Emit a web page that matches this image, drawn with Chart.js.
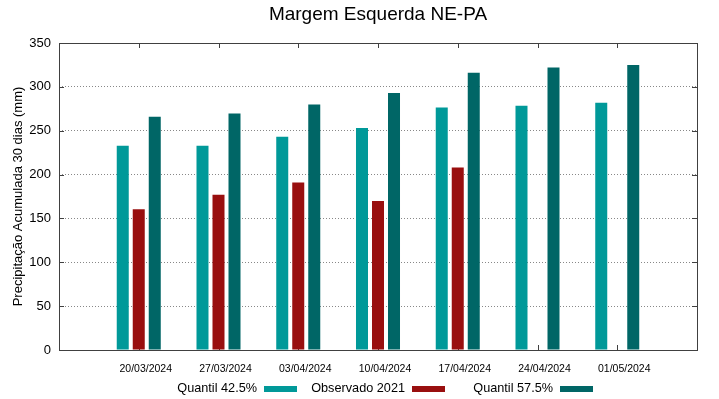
<!DOCTYPE html>
<html>
<head>
<meta charset="utf-8">
<script src="https://cdn.jsdelivr.net/npm/chart.js@4.4.1/dist/chart.umd.min.js"></script>
<style>
  html, body { margin: 0; padding: 0; background: #fff; }
</style>
</head>
<body>
<canvas id="chart" width="719" height="399"></canvas>
<script>
// Data
const dates = ['20/03/2024', '27/03/2024', '03/04/2024', '10/04/2024', '17/04/2024', '24/04/2024', '01/05/2024'];
const quantil425 = [233, 233, 243, 253, 276.5, 278.5, 282];
const observado2021 = [160.5, 177, 191, 170, 208, null, null];
const quantil575 = [266, 269.5, 280, 293, 316, 322, 325];

// Y axis range
const Y_MIN = 0;
const Y_MAX = 350;
const Y_STEP = 50;

// Style
const FONT = '"Liberation Sans", Arial, sans-serif';
const TICK_LEN = 5;
const LEGEND_X = 257;   // right edge of first key text
const LEGEND_Y = 388;
const LEGEND_COL = 148;

// gnuplot leaves an empty slot at each end of the x range
const labels = ['', ...dates, ''];
const pad = arr => [null, ...arr, null];

// Inward tick marks (drawn under the bars)
const tickMarks = {
  id: 'tickMarks',
  beforeDatasetsDraw(chart) {
    const { ctx, chartArea: a, scales: { x, y } } = chart;
    ctx.save();
    ctx.strokeStyle = '#404040';
    ctx.lineWidth = 1;
    ctx.beginPath();
    x.ticks.forEach((t, i) => {
      if (!chart.data.labels[i]) return;
      const px = Math.round(x.getPixelForTick(i)) + 0.5;
      ctx.moveTo(px, a.top); ctx.lineTo(px, a.top + TICK_LEN);
      ctx.moveTo(px, a.bottom); ctx.lineTo(px, a.bottom - TICK_LEN);
    });
    y.ticks.forEach((t, i) => {
      const py = Math.round(y.getPixelForTick(i)) + 0.5;
      ctx.moveTo(a.left, py); ctx.lineTo(a.left + TICK_LEN, py);
      ctx.moveTo(a.right, py); ctx.lineTo(a.right - TICK_LEN, py);
    });
    ctx.stroke();
    ctx.restore();
  }
};

// Box round the plot
const frame = {
  id: 'frame',
  afterDatasetsDraw(chart) {
    const { ctx, chartArea: a } = chart;
    ctx.save();
    ctx.strokeStyle = '#404040';
    ctx.lineWidth = 1;
    ctx.strokeRect(Math.round(a.left) + 0.5, Math.round(a.top) + 0.5,
                   Math.round(a.right - a.left), Math.round(a.bottom - a.top));
    ctx.restore();
  }
};

// gnuplot style key: text first, sample after it
const keyRow = {
  id: 'keyRow',
  afterDraw(chart) {
    const ctx = chart.ctx;
    ctx.save();
    ctx.font = '12.7px ' + FONT;
    ctx.textAlign = 'right';
    ctx.textBaseline = 'middle';
    chart.data.datasets.forEach((ds, i) => {
      const textEnd = LEGEND_X + i * LEGEND_COL;
      ctx.fillStyle = '#000';
      ctx.fillText(ds.label, textEnd, LEGEND_Y);
      ctx.fillStyle = ds.backgroundColor;
      ctx.fillRect(textEnd + 7, LEGEND_Y - 2, 33, 6);
    });
    ctx.restore();
  }
};

const chart = new Chart(document.getElementById('chart'), {
  type: 'bar',
  data: {
    labels: labels,
    datasets: [
      { label: 'Quantil 42.5%', data: pad(quantil425), backgroundColor: '#009999' },
      { label: 'Observado 2021', data: pad(observado2021), backgroundColor: '#990f0f' },
      { label: 'Quantil 57.5%', data: pad(quantil575), backgroundColor: '#006666' }
    ]
  },
  options: {
    responsive: false,
    animation: false,
    datasets: {
      bar: { categoryPercentage: 0.602, barPercentage: 0.75 }
    },
    layout: { padding: { left: 0, right: 22, top: 0, bottom: 0 } },
    plugins: {
      legend: { display: false },
      tooltip: { enabled: false },
      title: {
        display: true,
        text: 'Margem Esquerda NE-PA',
        fullSize: false,
        color: '#000',
        font: { family: FONT, size: 19, weight: 'normal' },
        padding: { top: 3.6, bottom: 16.6 }
      }
    },
    scales: {
      x: {
        offset: false,
        grid: { display: false },
        border: { display: false },
        ticks: {
          autoSkip: false,
          maxRotation: 0,
          padding: 5,
          labelOffset: 7,
          color: '#000',
          font: { family: FONT, size: 10.5 }
        },
        afterFit: scale => { scale.height = 49; }
      },
      y: {
        min: Y_MIN,
        max: Y_MAX,
        grid: {
          color: '#888888',
          drawTicks: false
        },
        border: { display: false, dash: [1, 2] },
        ticks: {
          stepSize: Y_STEP,
          padding: 8,
          color: '#000',
          font: { family: FONT, size: 13 }
        },
        title: {
          display: true,
          text: 'Precipitação Acumulada 30 dias (mm)',
          color: '#000',
          font: { family: FONT, size: 13 },
          padding: { top: 11, bottom: 0 }
        },
        afterFit: scale => { scale.width = 59; }
      }
    }
  },
  plugins: [tickMarks, frame, keyRow]
});
</script>
</body>
</html>
